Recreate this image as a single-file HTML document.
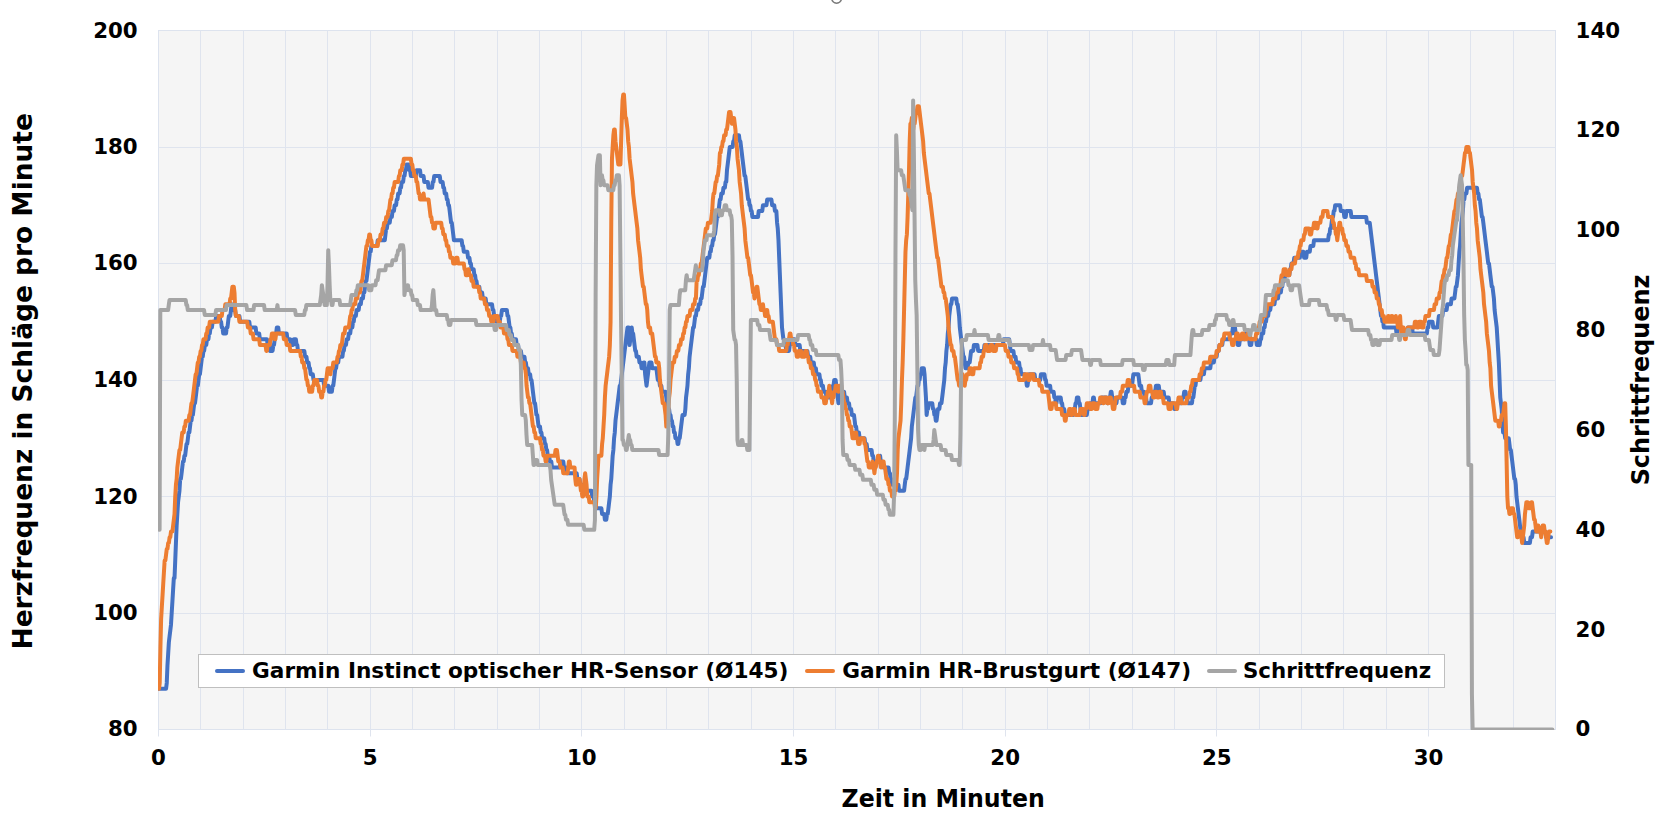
<!DOCTYPE html>
<html lang="de"><head><meta charset="utf-8"><title>Herzfrequenz Garmin Instinct</title>
<style>
html,body{margin:0;padding:0;background:#fff;}
body{width:1669px;height:827px;overflow:hidden;}
svg{display:block;}
text{font-family:"DejaVu Sans","Liberation Sans",sans-serif;font-weight:bold;fill:#000;}
.t{font-size:21.33px;}
.a{font-size:24px;}
.b{font-size:27.3px;}
.c{font-size:25px;}
</style></head><body>
<svg width="1669" height="827" viewBox="0 0 1669 827">
<rect width="1669" height="827" fill="#fff"/>
<circle cx="836.6" cy="-1.6" r="4.8" fill="none" stroke="#7a7a7a" stroke-width="1.6"/>
<rect x="158.5" y="30.5" width="1397.0" height="699.0" fill="#f5f5f5" stroke="#dde3ee" stroke-width="1"/>
<path d="M200.5 30.5V729.5 M243.5 30.5V729.5 M285.5 30.5V729.5 M327.5 30.5V729.5 M370.5 30.5V729.5 M412.5 30.5V729.5 M454.5 30.5V729.5 M497.5 30.5V729.5 M539.5 30.5V729.5 M581.5 30.5V729.5 M624.5 30.5V729.5 M666.5 30.5V729.5 M708.5 30.5V729.5 M751.5 30.5V729.5 M793.5 30.5V729.5 M835.5 30.5V729.5 M878.5 30.5V729.5 M920.5 30.5V729.5 M962.5 30.5V729.5 M1005.5 30.5V729.5 M1047.5 30.5V729.5 M1089.5 30.5V729.5 M1132.5 30.5V729.5 M1174.5 30.5V729.5 M1216.5 30.5V729.5 M1259.5 30.5V729.5 M1301.5 30.5V729.5 M1343.5 30.5V729.5 M1386.5 30.5V729.5 M1428.5 30.5V729.5 M1470.5 30.5V729.5 M1513.5 30.5V729.5 M158.5 147.5H1555.5 M158.5 263.5H1555.5 M158.5 380.5H1555.5 M158.5 496.5H1555.5 M158.5 613.5H1555.5" stroke="#dfe4ee" stroke-width="1" fill="none"/>
<path d="M158.5 729.5V736.5 M370.5 729.5V736.5 M581.5 729.5V736.5 M793.5 729.5V736.5 M1005.5 729.5V736.5 M1216.5 729.5V736.5 M1428.5 729.5V736.5" stroke="#dfe4ee" stroke-width="1" fill="none"/>
<rect x="198.5" y="654.5" width="1246" height="33" fill="#fff" stroke="#bfbfbf" stroke-width="1"/>
<clipPath id="pc"><rect x="158" y="20" width="1398" height="710"/></clipPath>
<g fill="none" stroke-width="4" stroke-linejoin="round" stroke-linecap="round" clip-path="url(#pc)">
<path d="M159 688.73 L166.06 688.73 L166.76 682.9 L167.47 665.42 L168.17 653.77 L168.88 642.12 L169.58 636.3 L170.29 630.48 L170.99 624.65 L171.7 613 L172.41 601.35 L173.11 589.7 L173.82 578.05 L174.52 578.05 L175.23 560.58 L175.93 543.1 L176.64 525.62 L177.34 513.98 L178.05 502.32 L178.76 496.5 L179.46 490.67 L180.17 479.02 L180.87 479.02 L181.58 473.2 L182.28 467.38 L182.99 461.55 L183.69 461.55 L184.4 455.72 L185.11 455.72 L185.81 449.9 L186.52 444.07 L187.22 444.07 L187.93 438.25 L188.63 432.43 L189.34 432.43 L190.04 426.6 L190.75 420.77 L191.46 420.77 L192.16 414.95 L192.87 414.95 L193.57 409.12 L194.28 403.3 L194.98 403.3 L195.69 397.47 L196.39 391.65 L197.1 385.82 L197.81 385.82 L198.51 380 L199.22 374.18 L199.92 374.18 L200.63 368.35 L201.33 362.52 L202.04 356.7 L202.74 356.7 L203.45 350.88 L204.16 350.88 L204.86 345.05 L206.27 345.05 L206.98 339.22 L208.39 339.22 L209.09 333.4 L209.8 333.4 L210.51 327.57 L211.92 327.57 L212.62 321.75 L215.44 321.75 L216.15 315.93 L219.68 315.93 L220.38 321.75 L221.09 321.75 L221.79 327.57 L222.5 327.57 L223.21 333.4 L226.03 333.4 L226.73 327.57 L227.44 327.57 L228.14 321.75 L228.85 315.93 L230.26 315.93 L230.97 310.1 L231.67 304.27 L232.38 310.1 L235.2 310.1 L235.91 315.93 L239.43 315.93 L240.14 321.75 L249.31 321.75 L250.02 327.57 L255.66 327.57 L256.37 333.4 L259.19 333.4 L259.89 339.22 L266.95 339.22 L267.66 345.05 L269.07 345.05 L269.77 350.88 L272.59 350.88 L273.3 345.05 L274.01 345.05 L274.71 339.22 L275.42 333.4 L276.12 333.4 L276.83 327.57 L278.24 327.57 L278.94 333.4 L286.71 333.4 L287.41 339.22 L290.23 339.22 L290.94 345.05 L293.06 345.05 L293.76 339.22 L295.88 339.22 L296.58 345.05 L297.29 345.05 L297.99 350.88 L304.34 350.88 L305.05 356.7 L306.46 356.7 L307.17 362.52 L308.58 362.52 L309.28 368.35 L309.99 368.35 L310.69 374.18 L312.81 374.18 L313.52 380 L323.39 380 L324.1 385.82 L328.33 385.82 L329.04 391.65 L331.86 391.65 L332.57 385.82 L333.27 385.82 L333.98 380 L334.68 374.18 L335.39 368.35 L336.09 368.35 L336.8 362.52 L338.21 362.52 L338.92 356.7 L342.44 356.7 L343.15 350.88 L343.86 350.88 L344.56 345.05 L345.97 345.05 L346.68 339.22 L348.09 339.22 L348.79 333.4 L350.21 333.4 L350.91 327.57 L352.32 327.57 L353.03 321.75 L353.73 321.75 L354.44 315.93 L355.85 315.93 L356.56 310.1 L358.67 310.1 L359.38 304.27 L360.79 304.27 L361.49 298.45 L362.91 298.45 L363.61 292.62 L364.32 292.62 L365.02 286.8 L365.73 280.97 L366.43 280.97 L367.14 275.15 L367.84 269.32 L368.55 263.5 L369.26 257.68 L369.96 251.85 L370.67 251.85 L371.37 246.02 L377.02 246.02 L377.72 240.2 L384.78 240.2 L385.48 234.38 L386.19 228.55 L386.89 228.55 L387.6 222.72 L389.72 222.72 L390.42 216.9 L391.83 216.9 L392.54 211.07 L393.95 211.07 L394.66 205.25 L396.07 205.25 L396.77 199.42 L397.48 199.42 L398.18 193.6 L399.59 193.6 L400.3 187.77 L401.01 187.77 L401.71 181.95 L403.12 181.95 L403.83 176.12 L404.53 176.12 L405.24 170.3 L405.94 170.3 L406.65 164.48 L408.77 164.48 L409.47 170.3 L410.18 170.3 L410.88 176.12 L415.82 176.12 L416.53 170.3 L420.06 170.3 L420.76 176.12 L423.58 176.12 L424.29 181.95 L427.82 181.95 L428.52 187.77 L432.05 187.77 L432.76 181.95 L433.46 181.95 L434.17 176.12 L439.81 176.12 L440.52 181.95 L442.63 181.95 L443.34 187.77 L444.04 187.77 L444.75 193.6 L446.16 193.6 L446.87 199.42 L447.57 199.42 L448.28 205.25 L448.98 205.25 L449.69 211.07 L450.39 216.9 L451.1 222.72 L451.81 222.72 L452.51 228.55 L453.22 234.38 L453.92 240.2 L461.68 240.2 L462.39 246.02 L463.09 246.02 L463.8 251.85 L467.33 251.85 L468.03 257.68 L469.44 257.68 L470.15 263.5 L470.86 263.5 L471.56 269.32 L473.68 269.32 L474.38 275.15 L475.09 275.15 L475.79 280.97 L476.5 280.97 L477.21 286.8 L479.32 286.8 L480.03 292.62 L482.14 292.62 L482.85 298.45 L485.67 298.45 L486.38 304.27 L492.02 304.27 L492.73 310.1 L493.43 310.1 L494.14 315.93 L495.55 315.93 L496.26 321.75 L499.78 321.75 L500.49 315.93 L501.19 315.93 L501.9 310.1 L506.84 310.1 L507.54 315.93 L508.25 315.93 L508.96 321.75 L509.66 327.57 L510.37 327.57 L511.07 333.4 L511.78 333.4 L512.48 339.22 L516.01 339.22 L516.72 345.05 L518.13 345.05 L518.83 350.88 L520.95 350.88 L521.66 356.7 L524.48 356.7 L525.18 362.52 L525.89 362.52 L526.59 368.35 L528.01 368.35 L528.71 374.18 L530.12 374.18 L530.83 380 L531.53 380 L532.24 385.82 L532.94 391.65 L533.65 397.47 L534.36 403.3 L535.06 403.3 L535.77 409.12 L536.47 414.95 L537.18 414.95 L537.88 420.77 L538.59 426.6 L540 426.6 L540.71 432.43 L541.41 432.43 L542.12 438.25 L544.23 438.25 L544.94 444.07 L545.64 444.07 L546.35 449.9 L547.06 449.9 L547.76 455.72 L549.17 455.72 L549.88 461.55 L551.29 461.55 L551.99 467.38 L559.76 467.38 L560.46 461.55 L563.28 461.55 L563.99 467.38 L566.11 467.38 L566.81 473.2 L576.69 473.2 L577.39 479.02 L579.51 479.02 L580.22 484.85 L584.45 484.85 L585.16 490.67 L591.51 490.67 L592.21 496.5 L593.62 496.5 L594.33 502.32 L595.03 502.32 L595.74 508.15 L601.38 508.15 L602.09 513.98 L604.21 513.98 L604.91 519.8 L606.32 519.8 L607.03 513.98 L607.73 513.98 L608.44 508.15 L609.14 502.32 L609.85 496.5 L610.56 484.85 L611.26 479.02 L611.97 467.38 L612.67 455.72 L613.38 449.9 L614.08 438.25 L614.79 432.43 L615.49 420.77 L616.2 414.95 L616.91 409.12 L617.61 403.3 L618.32 397.47 L619.02 391.65 L619.73 385.82 L620.43 385.82 L621.14 380 L621.84 374.18 L622.55 368.35 L623.26 362.52 L623.96 356.7 L624.67 350.88 L625.37 345.05 L626.08 339.22 L626.78 333.4 L627.49 327.57 L628.9 327.57 L629.61 345.05 L630.31 339.22 L631.02 333.4 L631.72 327.57 L632.43 333.4 L633.13 333.4 L633.84 339.22 L634.54 345.05 L635.25 350.88 L635.96 350.88 L636.66 356.7 L638.78 356.7 L639.48 362.52 L640.89 362.52 L641.6 368.35 L643.01 368.35 L643.72 362.52 L644.42 362.52 L645.13 374.18 L645.83 380 L646.54 385.82 L647.24 380 L647.95 374.18 L648.66 368.35 L649.36 362.52 L651.48 362.52 L652.18 368.35 L656.42 368.35 L657.12 374.18 L657.83 380 L659.24 380 L659.94 385.82 L661.36 385.82 L662.06 391.65 L665.59 391.65 L666.29 397.47 L667 403.3 L667.71 403.3 L668.41 409.12 L669.12 409.12 L669.82 414.95 L670.53 414.95 L671.23 420.77 L671.94 420.77 L672.64 426.6 L673.35 426.6 L674.06 432.43 L674.76 432.43 L675.47 438.25 L676.88 438.25 L677.58 444.07 L678.29 444.07 L678.99 438.25 L679.7 438.25 L680.41 432.43 L681.11 426.6 L681.82 420.77 L682.52 414.95 L684.64 414.95 L685.34 409.12 L686.05 397.47 L686.76 391.65 L687.46 385.82 L688.17 374.18 L688.87 368.35 L689.58 356.7 L690.28 350.88 L690.99 345.05 L691.69 339.22 L692.4 333.4 L693.11 327.57 L693.81 327.57 L694.52 321.75 L695.22 315.93 L695.93 315.93 L696.63 310.1 L698.04 310.1 L698.75 304.27 L700.16 304.27 L700.87 298.45 L701.57 298.45 L702.28 292.62 L702.98 286.8 L703.69 286.8 L704.39 280.97 L705.1 275.15 L705.81 269.32 L706.51 263.5 L707.22 257.68 L709.33 257.68 L710.04 251.85 L710.74 251.85 L711.45 246.02 L712.16 246.02 L712.86 240.2 L713.57 240.2 L714.27 234.38 L714.98 234.38 L715.68 228.55 L716.39 222.72 L717.09 216.9 L717.8 216.9 L718.51 211.07 L719.21 205.25 L719.92 199.42 L720.62 199.42 L721.33 193.6 L722.74 193.6 L723.44 187.77 L724.86 187.77 L725.56 181.95 L726.27 181.95 L726.97 170.3 L727.68 164.48 L728.38 158.65 L729.09 152.82 L729.79 147 L732.62 147 L733.32 141.17 L734.03 141.17 L734.73 135.35 L738.97 135.35 L739.67 141.17 L740.38 141.17 L741.08 147 L741.79 152.82 L742.49 158.65 L743.2 164.48 L743.91 170.3 L744.61 176.12 L745.32 176.12 L746.02 181.95 L746.73 187.77 L747.43 193.6 L748.14 199.42 L748.84 199.42 L749.55 205.25 L750.26 205.25 L750.96 211.07 L751.67 211.07 L752.37 216.9 L758.02 216.9 L758.72 211.07 L762.25 211.07 L762.96 205.25 L766.48 205.25 L767.19 199.42 L771.42 199.42 L772.13 205.25 L774.24 205.25 L774.95 211.07 L776.36 211.07 L777.07 222.72 L777.77 228.55 L778.48 240.2 L779.18 257.68 L779.89 275.15 L780.59 292.62 L781.3 310.1 L782.01 327.57 L782.71 333.4 L783.42 339.22 L784.12 339.22 L784.83 345.05 L785.53 345.05 L786.24 350.88 L789.06 350.88 L789.77 345.05 L790.47 345.05 L791.18 339.22 L794.71 339.22 L795.41 345.05 L799.64 345.05 L800.35 350.88 L807.41 350.88 L808.11 356.7 L810.23 356.7 L810.93 362.52 L813.76 362.52 L814.46 368.35 L815.87 368.35 L816.58 374.18 L819.4 374.18 L820.11 380 L820.81 380 L821.52 385.82 L822.93 385.82 L823.63 391.65 L825.75 391.65 L826.46 397.47 L831.39 397.47 L832.1 391.65 L832.81 385.82 L833.51 385.82 L834.22 380 L835.63 380 L836.33 385.82 L837.04 391.65 L837.74 397.47 L838.45 403.3 L839.16 397.47 L839.86 397.47 L840.57 391.65 L844.09 391.65 L844.8 397.47 L846.92 397.47 L847.62 403.3 L849.03 403.3 L849.74 409.12 L851.15 409.12 L851.86 414.95 L853.97 414.95 L854.68 420.77 L855.38 426.6 L856.09 426.6 L856.79 432.43 L858.91 432.43 L859.62 438.25 L864.56 438.25 L865.26 444.07 L866.67 444.07 L867.38 449.9 L871.61 449.9 L872.32 455.72 L873.02 455.72 L873.73 461.55 L879.37 461.55 L880.08 455.72 L880.78 461.55 L882.19 461.55 L882.9 467.38 L888.54 467.38 L889.25 473.2 L889.96 473.2 L890.66 479.02 L891.37 479.02 L892.07 484.85 L898.42 484.85 L899.13 490.67 L904.07 490.67 L904.77 484.85 L905.48 479.02 L906.18 479.02 L906.89 473.2 L907.59 467.38 L908.3 461.55 L909.01 455.72 L909.71 449.9 L910.42 444.07 L911.12 438.25 L911.83 426.6 L912.53 420.77 L913.24 414.95 L913.94 409.12 L914.65 403.3 L915.36 397.47 L916.06 397.47 L916.77 391.65 L917.47 385.82 L918.18 385.82 L918.88 380 L919.59 380 L920.29 374.18 L921 374.18 L921.71 368.35 L923.82 368.35 L924.53 374.18 L925.23 385.82 L925.94 397.47 L926.64 414.95 L927.35 409.12 L928.06 409.12 L928.76 403.3 L932.29 403.3 L932.99 409.12 L933.7 409.12 L934.41 414.95 L935.11 414.95 L935.82 420.77 L936.52 420.77 L937.23 414.95 L937.93 409.12 L939.34 409.12 L940.05 403.3 L941.46 403.3 L942.17 397.47 L942.87 391.65 L943.58 385.82 L944.28 380 L944.99 368.35 L945.69 362.52 L946.4 350.88 L947.11 345.05 L947.81 333.4 L948.52 327.57 L949.22 315.93 L949.93 310.1 L950.63 304.27 L951.34 304.27 L952.04 298.45 L956.28 298.45 L956.98 304.27 L957.69 304.27 L958.39 310.1 L959.1 315.93 L959.81 327.57 L960.51 333.4 L961.22 339.22 L961.92 345.05 L962.63 350.88 L963.33 356.7 L964.04 356.7 L964.74 362.52 L965.45 368.35 L967.57 368.35 L968.27 362.52 L969.68 362.52 L970.39 356.7 L971.09 350.88 L973.21 350.88 L973.92 345.05 L977.44 345.05 L978.15 350.88 L983.79 350.88 L984.5 345.05 L1002.84 345.05 L1003.55 339.22 L1009.19 339.22 L1009.9 345.05 L1010.61 350.88 L1013.43 350.88 L1014.13 356.7 L1015.54 356.7 L1016.25 362.52 L1019.07 362.52 L1019.78 368.35 L1020.48 368.35 L1021.19 374.18 L1024.72 374.18 L1025.42 380 L1026.13 380 L1026.83 385.82 L1027.54 385.82 L1028.24 380 L1028.95 374.18 L1034.59 374.18 L1035.3 380 L1040.24 380 L1040.94 374.18 L1044.47 374.18 L1045.18 380 L1045.88 380 L1046.59 385.82 L1050.12 385.82 L1050.82 391.65 L1053.64 391.65 L1054.35 397.47 L1055.06 397.47 L1055.76 403.3 L1056.47 403.3 L1057.17 397.47 L1060.7 397.47 L1061.41 403.3 L1062.11 403.3 L1062.82 409.12 L1064.23 409.12 L1064.93 414.95 L1073.4 414.95 L1074.11 409.12 L1074.81 409.12 L1075.52 403.3 L1076.22 403.3 L1076.93 397.47 L1078.34 397.47 L1079.04 403.3 L1079.75 403.3 L1080.46 409.12 L1081.16 414.95 L1086.81 414.95 L1087.51 409.12 L1089.63 409.12 L1090.33 403.3 L1092.45 403.3 L1093.16 397.47 L1093.86 397.47 L1094.57 403.3 L1100.92 403.3 L1101.62 397.47 L1106.56 397.47 L1107.27 403.3 L1107.97 403.3 L1108.68 397.47 L1110.09 397.47 L1110.79 391.65 L1111.5 391.65 L1112.21 397.47 L1112.91 397.47 L1113.62 403.3 L1116.44 403.3 L1117.14 397.47 L1122.08 397.47 L1122.79 403.3 L1124.2 403.3 L1124.91 397.47 L1125.61 397.47 L1126.32 391.65 L1127.73 391.65 L1128.43 385.82 L1131.96 385.82 L1132.67 380 L1133.37 374.18 L1138.31 374.18 L1139.02 380 L1139.72 385.82 L1141.13 385.82 L1141.84 391.65 L1143.96 391.65 L1144.66 397.47 L1146.07 397.47 L1146.78 403.3 L1151.01 403.3 L1151.72 397.47 L1152.42 397.47 L1153.13 391.65 L1155.24 391.65 L1155.95 385.82 L1158.77 385.82 L1159.48 391.65 L1163.71 391.65 L1164.42 397.47 L1168.65 397.47 L1169.36 403.3 L1173.59 403.3 L1174.29 409.12 L1176.41 409.12 L1177.12 403.3 L1181.35 403.3 L1182.06 397.47 L1183.47 397.47 L1184.17 391.65 L1185.58 391.65 L1186.29 397.47 L1186.99 397.47 L1187.7 403.3 L1191.93 403.3 L1192.64 397.47 L1193.34 397.47 L1194.05 391.65 L1194.76 385.82 L1195.46 385.82 L1196.17 380 L1200.4 380 L1201.11 374.18 L1203.93 374.18 L1204.63 368.35 L1210.28 368.35 L1210.98 362.52 L1213.81 362.52 L1214.51 356.7 L1216.63 356.7 L1217.33 350.88 L1218.74 350.88 L1219.45 345.05 L1222.27 345.05 L1222.98 339.22 L1229.33 339.22 L1230.03 333.4 L1232.15 333.4 L1232.86 327.57 L1234.97 327.57 L1235.68 333.4 L1236.38 339.22 L1237.09 339.22 L1237.79 345.05 L1239.21 345.05 L1239.91 339.22 L1244.85 339.22 L1245.56 333.4 L1246.97 333.4 L1247.67 339.22 L1249.08 339.22 L1249.79 345.05 L1251.2 345.05 L1251.91 339.22 L1256.14 339.22 L1256.84 345.05 L1259.67 345.05 L1260.37 339.22 L1261.08 339.22 L1261.78 333.4 L1263.19 333.4 L1263.9 327.57 L1264.61 327.57 L1265.31 321.75 L1266.02 321.75 L1266.72 315.93 L1268.13 315.93 L1268.84 310.1 L1270.25 310.1 L1270.96 304.27 L1274.48 304.27 L1275.19 298.45 L1278.01 298.45 L1278.72 292.62 L1280.83 292.62 L1281.54 286.8 L1282.24 286.8 L1282.95 280.97 L1284.36 280.97 L1285.07 275.15 L1289.3 275.15 L1290.01 269.32 L1290.71 269.32 L1291.42 263.5 L1293.53 263.5 L1294.24 257.68 L1299.88 257.68 L1300.59 251.85 L1303.41 251.85 L1304.12 257.68 L1306.23 257.68 L1306.94 251.85 L1309.76 251.85 L1310.47 246.02 L1313.29 246.02 L1313.99 240.2 L1328.11 240.2 L1328.81 234.38 L1329.52 234.38 L1330.22 228.55 L1330.93 228.55 L1331.63 222.72 L1332.34 216.9 L1333.04 216.9 L1333.75 211.07 L1334.46 211.07 L1335.16 205.25 L1340.1 205.25 L1340.81 211.07 L1343.63 211.07 L1344.33 216.9 L1345.74 216.9 L1346.45 211.07 L1350.68 211.07 L1351.39 216.9 L1366.21 216.9 L1366.91 222.72 L1369.73 222.72 L1370.44 228.55 L1371.14 234.38 L1371.85 240.2 L1372.56 246.02 L1373.26 251.85 L1373.97 257.68 L1374.67 263.5 L1375.38 269.32 L1376.08 275.15 L1376.79 280.97 L1377.49 286.8 L1378.2 292.62 L1378.91 298.45 L1379.61 304.27 L1380.32 310.1 L1381.02 315.93 L1381.73 315.93 L1382.43 321.75 L1383.14 321.75 L1383.84 327.57 L1395.84 327.57 L1396.54 333.4 L1397.25 333.4 L1397.96 327.57 L1402.19 327.57 L1402.89 333.4 L1407.13 333.4 L1407.83 327.57 L1412.07 327.57 L1412.77 333.4 L1426.88 333.4 L1427.59 327.57 L1428.29 327.57 L1429 321.75 L1432.53 321.75 L1433.23 327.57 L1437.47 327.57 L1438.17 321.75 L1438.88 315.93 L1442.41 315.93 L1443.11 310.1 L1446.64 310.1 L1447.34 304.27 L1450.87 304.27 L1451.58 298.45 L1454.4 298.45 L1455.11 292.62 L1455.81 286.8 L1456.52 286.8 L1457.22 280.97 L1457.93 275.15 L1458.63 263.5 L1459.34 251.85 L1460.04 246.02 L1460.75 234.38 L1461.46 222.72 L1462.16 216.9 L1462.87 211.07 L1463.57 199.42 L1464.28 199.42 L1464.98 193.6 L1466.39 193.6 L1467.1 187.77 L1476.98 187.77 L1477.68 193.6 L1478.39 193.6 L1479.09 199.42 L1479.8 199.42 L1480.51 205.25 L1481.21 211.07 L1481.92 216.9 L1482.62 216.9 L1483.33 222.72 L1484.03 228.55 L1484.74 234.38 L1485.44 240.2 L1486.15 246.02 L1486.86 251.85 L1487.56 257.68 L1488.27 263.5 L1488.97 263.5 L1489.68 269.32 L1490.38 275.15 L1491.09 280.97 L1491.79 286.8 L1492.5 286.8 L1493.21 292.62 L1493.91 298.45 L1494.62 310.1 L1495.32 315.93 L1496.03 321.75 L1496.73 327.57 L1497.44 339.22 L1498.14 350.88 L1498.85 362.52 L1499.56 380 L1500.26 397.47 L1500.97 403.3 L1501.67 409.12 L1502.38 420.77 L1503.08 432.43 L1504.49 432.43 L1505.2 438.25 L1508.73 438.25 L1509.43 444.07 L1510.14 449.9 L1510.84 449.9 L1511.55 455.72 L1512.26 461.55 L1512.96 467.38 L1513.67 473.2 L1514.37 479.02 L1515.08 479.02 L1515.78 484.85 L1516.49 496.5 L1517.19 502.32 L1517.9 508.15 L1518.61 513.98 L1519.31 519.8 L1520.02 525.62 L1520.72 531.45 L1521.43 531.45 L1522.13 537.27 L1523.54 537.27 L1524.25 543.1 L1529.89 543.1 L1530.6 537.27 L1532.01 537.27 L1532.72 531.45 L1545.42 531.45 L1546.12 537.27 L1551.06 537.27" stroke="#4472c4"/>
<path d="M159 688.73 L159.71 682.9 L160.41 647.95 L161.12 618.83 L161.82 607.17 L162.53 595.52 L163.23 583.88 L163.94 572.23 L164.64 560.58 L165.35 560.58 L166.06 554.75 L166.76 548.92 L167.47 548.92 L168.17 543.1 L168.88 543.1 L169.58 537.27 L170.29 537.27 L170.99 531.45 L172.41 531.45 L173.11 525.62 L173.82 519.8 L174.52 513.98 L175.23 496.5 L175.93 484.85 L176.64 479.02 L177.34 467.38 L178.05 461.55 L178.76 455.72 L179.46 449.9 L180.17 449.9 L180.87 444.07 L181.58 438.25 L182.28 432.43 L183.69 432.43 L184.4 426.6 L185.11 426.6 L185.81 420.77 L188.63 420.77 L189.34 414.95 L190.04 414.95 L190.75 409.12 L191.46 403.3 L192.16 403.3 L192.87 397.47 L193.57 391.65 L194.28 385.82 L194.98 380 L195.69 374.18 L196.39 374.18 L197.1 368.35 L197.81 362.52 L198.51 362.52 L199.22 356.7 L199.92 356.7 L200.63 350.88 L201.33 350.88 L202.04 345.05 L202.74 345.05 L203.45 339.22 L205.57 339.22 L206.27 333.4 L206.98 333.4 L207.68 327.57 L209.09 327.57 L209.8 321.75 L218.27 321.75 L218.97 315.93 L221.79 315.93 L222.5 310.1 L224.62 310.1 L225.32 304.27 L229.56 304.27 L230.26 298.45 L230.97 298.45 L231.67 292.62 L232.38 286.8 L233.79 286.8 L234.49 292.62 L235.2 310.1 L235.91 315.93 L238.73 315.93 L239.43 321.75 L247.19 321.75 L247.9 327.57 L250.02 327.57 L250.72 333.4 L252.84 333.4 L253.54 339.22 L259.19 339.22 L259.89 345.05 L265.54 345.05 L266.24 350.88 L266.95 350.88 L267.66 345.05 L269.77 345.05 L270.48 339.22 L271.18 339.22 L271.89 333.4 L274.01 333.4 L274.71 339.22 L275.42 339.22 L276.12 333.4 L283.18 333.4 L283.88 339.22 L286 339.22 L286.71 345.05 L289.53 345.05 L290.23 350.88 L300.11 350.88 L300.82 356.7 L301.52 356.7 L302.23 362.52 L303.64 362.52 L304.34 368.35 L305.05 368.35 L305.76 374.18 L306.46 380 L307.17 380 L307.87 385.82 L308.58 385.82 L309.28 391.65 L312.11 391.65 L312.81 385.82 L313.52 385.82 L314.22 380 L317.04 380 L317.75 385.82 L318.46 385.82 L319.16 391.65 L320.57 391.65 L321.28 397.47 L321.98 397.47 L322.69 391.65 L323.39 391.65 L324.1 385.82 L324.81 385.82 L325.51 380 L326.22 380 L326.92 374.18 L327.63 368.35 L329.74 368.35 L330.45 374.18 L331.16 368.35 L332.57 368.35 L333.27 362.52 L336.8 362.52 L337.51 356.7 L338.21 356.7 L338.92 350.88 L339.62 350.88 L340.33 345.05 L341.74 345.05 L342.44 339.22 L343.15 333.4 L344.56 333.4 L345.27 327.57 L348.79 327.57 L349.5 321.75 L350.21 315.93 L350.91 315.93 L351.62 310.1 L352.32 310.1 L353.03 304.27 L355.14 304.27 L355.85 298.45 L357.26 298.45 L357.97 292.62 L360.08 292.62 L360.79 286.8 L361.49 280.97 L362.2 280.97 L362.91 275.15 L363.61 269.32 L364.32 263.5 L365.02 257.68 L365.73 251.85 L366.43 246.02 L367.14 246.02 L367.84 240.2 L368.55 240.2 L369.26 234.38 L369.96 234.38 L370.67 240.2 L371.37 240.2 L372.08 246.02 L377.72 246.02 L378.43 240.2 L379.84 240.2 L380.54 234.38 L381.96 234.38 L382.66 228.55 L383.37 228.55 L384.07 222.72 L385.48 222.72 L386.19 216.9 L387.6 216.9 L388.31 211.07 L389.01 211.07 L389.72 205.25 L390.42 199.42 L391.13 199.42 L391.83 193.6 L392.54 193.6 L393.24 187.77 L393.95 187.77 L394.66 181.95 L398.18 181.95 L398.89 176.12 L399.59 176.12 L400.3 170.3 L401.71 170.3 L402.42 164.48 L403.12 164.48 L403.83 158.65 L410.88 158.65 L411.59 164.48 L412.29 164.48 L413 170.3 L413.71 170.3 L414.41 176.12 L415.82 176.12 L416.53 181.95 L417.23 181.95 L417.94 187.77 L418.64 193.6 L419.35 193.6 L420.06 199.42 L422.88 199.42 L423.58 193.6 L424.29 199.42 L428.52 199.42 L429.23 205.25 L429.93 211.07 L430.64 216.9 L431.34 216.9 L432.05 222.72 L432.76 222.72 L433.46 228.55 L434.87 228.55 L435.58 222.72 L441.22 222.72 L441.93 228.55 L442.63 228.55 L443.34 234.38 L444.75 234.38 L445.46 240.2 L446.16 240.2 L446.87 246.02 L448.28 246.02 L448.98 251.85 L449.69 251.85 L450.39 257.68 L452.51 257.68 L453.22 263.5 L455.33 263.5 L456.04 257.68 L457.45 257.68 L458.16 263.5 L463.8 263.5 L464.51 269.32 L465.21 269.32 L465.92 275.15 L467.33 275.15 L468.03 269.32 L468.74 269.32 L469.44 275.15 L470.86 275.15 L471.56 280.97 L472.97 280.97 L473.68 286.8 L478.62 286.8 L479.32 292.62 L480.03 292.62 L480.73 298.45 L484.26 298.45 L484.97 304.27 L486.38 304.27 L487.08 310.1 L488.49 310.1 L489.2 315.93 L490.61 315.93 L491.32 321.75 L493.43 321.75 L494.14 315.93 L497.67 315.93 L498.37 321.75 L499.78 321.75 L500.49 327.57 L503.31 327.57 L504.02 333.4 L506.84 333.4 L507.54 339.22 L508.25 339.22 L508.96 345.05 L511.78 345.05 L512.48 350.88 L516.72 350.88 L517.42 356.7 L520.24 356.7 L520.95 362.52 L523.77 362.52 L524.48 368.35 L525.18 368.35 L525.89 374.18 L526.59 385.82 L527.3 391.65 L528.01 397.47 L528.71 397.47 L529.42 403.3 L530.12 403.3 L530.83 409.12 L531.53 414.95 L532.24 420.77 L532.94 426.6 L533.65 426.6 L534.36 432.43 L535.06 432.43 L535.77 438.25 L540 438.25 L540.71 444.07 L541.41 444.07 L542.12 449.9 L542.82 449.9 L543.53 455.72 L544.94 455.72 L545.64 461.55 L546.35 461.55 L547.06 455.72 L554.82 455.72 L555.52 449.9 L556.93 449.9 L557.64 455.72 L558.34 461.55 L559.76 461.55 L560.46 467.38 L562.58 467.38 L563.28 473.2 L567.52 473.2 L568.22 467.38 L568.93 461.55 L569.63 461.55 L570.34 467.38 L574.57 467.38 L575.28 479.02 L575.98 484.85 L576.69 484.85 L577.39 479.02 L579.51 479.02 L580.22 484.85 L580.92 490.67 L581.63 490.67 L582.33 496.5 L583.04 496.5 L583.74 490.67 L584.45 479.02 L585.16 473.2 L585.86 479.02 L586.57 484.85 L587.27 496.5 L588.68 496.5 L589.39 502.32 L594.33 502.32 L595.03 508.15 L595.74 508.15 L596.44 496.5 L597.15 479.02 L597.86 467.38 L598.56 455.72 L601.38 455.72 L602.09 444.07 L602.79 438.25 L603.5 426.6 L604.21 414.95 L604.91 397.47 L605.62 385.82 L606.32 380 L607.03 374.18 L607.73 368.35 L608.44 362.52 L609.14 356.7 L609.85 345.05 L610.56 321.75 L611.26 222.72 L611.97 158.65 L612.67 147 L613.38 135.35 L614.08 129.52 L614.79 129.52 L615.49 141.17 L616.2 147 L616.91 152.82 L617.61 158.65 L618.32 164.48 L620.43 164.48 L621.14 141.17 L621.84 117.88 L622.55 100.4 L623.26 94.57 L623.96 94.57 L624.67 106.23 L625.37 117.88 L626.08 117.88 L626.78 123.7 L627.49 129.52 L628.19 141.17 L628.9 147 L629.61 158.65 L630.31 164.48 L631.02 170.3 L631.72 176.12 L632.43 181.95 L633.13 193.6 L633.84 199.42 L634.54 205.25 L635.25 211.07 L635.96 216.9 L636.66 222.72 L637.37 228.55 L638.07 240.2 L638.78 246.02 L639.48 251.85 L640.19 257.68 L640.89 269.32 L641.6 275.15 L642.31 280.97 L643.01 286.8 L643.72 286.8 L644.42 292.62 L645.13 298.45 L645.83 304.27 L646.54 304.27 L647.24 310.1 L647.95 321.75 L648.66 327.57 L650.07 327.57 L650.77 333.4 L652.18 333.4 L652.89 339.22 L653.59 345.05 L654.3 350.88 L655.01 356.7 L655.71 356.7 L656.42 362.52 L658.53 362.52 L659.24 368.35 L659.94 380 L660.65 385.82 L661.36 391.65 L662.06 397.47 L662.77 403.3 L664.18 403.3 L664.88 409.12 L665.59 414.95 L666.29 426.6 L667 420.77 L667.71 414.95 L668.41 409.12 L669.12 397.47 L669.82 391.65 L670.53 380 L671.23 374.18 L671.94 368.35 L672.64 362.52 L674.06 362.52 L674.76 356.7 L676.17 356.7 L676.88 350.88 L678.29 350.88 L678.99 345.05 L680.41 345.05 L681.11 339.22 L682.52 339.22 L683.23 333.4 L683.93 333.4 L684.64 327.57 L685.34 327.57 L686.05 321.75 L686.76 321.75 L687.46 315.93 L689.58 315.93 L690.28 310.1 L692.4 310.1 L693.11 304.27 L694.52 304.27 L695.22 298.45 L695.93 298.45 L696.63 280.97 L697.34 280.97 L698.04 275.15 L698.75 275.15 L699.46 269.32 L700.16 269.32 L700.87 263.5 L701.57 263.5 L702.28 257.68 L702.98 251.85 L703.69 246.02 L704.39 240.2 L705.1 234.38 L705.81 228.55 L707.22 228.55 L707.92 222.72 L710.74 222.72 L711.45 216.9 L712.16 211.07 L712.86 199.42 L713.57 193.6 L714.27 193.6 L714.98 187.77 L715.68 181.95 L716.39 181.95 L717.09 176.12 L717.8 176.12 L718.51 170.3 L719.21 164.48 L719.92 152.82 L720.62 152.82 L721.33 147 L722.03 147 L722.74 141.17 L723.44 141.17 L724.15 135.35 L725.56 135.35 L726.27 129.52 L726.97 129.52 L727.68 123.7 L728.38 117.88 L729.09 112.05 L730.5 112.05 L731.21 117.88 L731.91 123.7 L732.62 117.88 L734.03 117.88 L734.73 123.7 L735.44 129.52 L736.14 141.17 L736.85 147 L737.56 158.65 L738.26 164.48 L738.97 170.3 L739.67 181.95 L740.38 187.77 L741.08 193.6 L741.79 205.25 L742.49 211.07 L743.2 216.9 L743.91 222.72 L744.61 228.55 L745.32 240.2 L746.02 246.02 L746.73 251.85 L747.43 257.68 L748.14 257.68 L748.84 263.5 L749.55 269.32 L750.26 275.15 L750.96 275.15 L751.67 280.97 L752.37 286.8 L753.08 292.62 L753.78 292.62 L754.49 298.45 L755.19 292.62 L755.9 292.62 L756.61 286.8 L757.31 286.8 L758.02 292.62 L758.72 298.45 L759.43 304.27 L760.13 304.27 L760.84 310.1 L762.25 310.1 L762.96 304.27 L763.66 310.1 L764.37 310.1 L765.07 315.93 L765.78 315.93 L766.48 310.1 L767.19 310.1 L767.89 315.93 L768.6 315.93 L769.31 321.75 L772.83 321.75 L773.54 327.57 L774.24 333.4 L774.95 339.22 L776.36 339.22 L777.07 345.05 L778.48 345.05 L779.18 350.88 L786.24 350.88 L786.94 345.05 L787.65 345.05 L788.36 339.22 L789.06 339.22 L789.77 333.4 L790.47 333.4 L791.18 339.22 L792.59 339.22 L793.29 345.05 L794 345.05 L794.71 350.88 L796.12 350.88 L796.82 356.7 L798.23 356.7 L798.94 350.88 L801.06 350.88 L801.76 356.7 L804.58 356.7 L805.29 350.88 L806.7 350.88 L807.41 356.7 L808.11 356.7 L808.82 362.52 L810.23 362.52 L810.93 368.35 L812.34 368.35 L813.05 374.18 L814.46 374.18 L815.17 380 L815.87 380 L816.58 385.82 L817.28 385.82 L817.99 391.65 L820.81 391.65 L821.52 397.47 L823.63 397.47 L824.34 403.3 L825.75 403.3 L826.46 397.47 L827.16 397.47 L827.87 391.65 L828.57 391.65 L829.28 385.82 L829.98 391.65 L830.69 391.65 L831.39 397.47 L832.1 403.3 L832.81 397.47 L833.51 397.47 L834.22 391.65 L834.92 391.65 L835.63 385.82 L837.74 385.82 L838.45 391.65 L839.16 385.82 L841.27 385.82 L841.98 391.65 L842.68 391.65 L843.39 397.47 L844.09 403.3 L844.8 403.3 L845.51 409.12 L846.21 409.12 L846.92 414.95 L847.62 414.95 L848.33 420.77 L849.03 420.77 L849.74 426.6 L851.15 426.6 L851.86 432.43 L852.56 438.25 L854.68 438.25 L855.38 432.43 L856.09 432.43 L856.79 438.25 L857.5 438.25 L858.21 444.07 L859.62 444.07 L860.32 438.25 L863.85 438.25 L864.56 444.07 L865.26 444.07 L865.97 449.9 L866.67 455.72 L867.38 461.55 L868.08 461.55 L868.79 467.38 L871.61 467.38 L872.32 461.55 L873.02 467.38 L873.73 467.38 L874.43 473.2 L875.14 467.38 L875.84 467.38 L876.55 461.55 L877.26 461.55 L877.96 455.72 L878.67 455.72 L879.37 461.55 L880.08 461.55 L880.78 467.38 L881.49 467.38 L882.19 461.55 L883.61 461.55 L884.31 467.38 L885.02 467.38 L885.72 473.2 L886.43 479.02 L887.84 479.02 L888.54 484.85 L889.25 484.85 L889.96 490.67 L891.37 490.67 L892.07 496.5 L894.19 496.5 L894.89 490.67 L895.6 490.67 L896.31 484.85 L897.01 473.2 L897.72 449.9 L898.42 438.25 L899.13 432.43 L899.83 426.6 L900.54 420.77 L901.24 403.3 L901.95 380 L902.66 362.52 L903.36 339.22 L904.07 310.1 L904.77 280.97 L905.48 251.85 L906.18 240.2 L906.89 234.38 L907.59 216.9 L908.3 193.6 L909.01 170.3 L909.71 141.17 L910.42 123.7 L911.12 123.7 L911.83 117.88 L912.53 123.7 L913.24 129.52 L913.94 123.7 L914.65 123.7 L915.36 117.88 L916.06 112.05 L916.77 112.05 L917.47 106.23 L918.88 106.23 L919.59 112.05 L920.29 117.88 L921 123.7 L921.71 129.52 L922.41 135.35 L923.12 141.17 L923.82 152.82 L924.53 158.65 L925.23 164.48 L925.94 170.3 L926.64 176.12 L927.35 181.95 L928.06 187.77 L928.76 193.6 L929.47 193.6 L930.17 199.42 L930.88 205.25 L931.58 211.07 L932.29 216.9 L932.99 222.72 L933.7 228.55 L934.41 234.38 L935.11 240.2 L935.82 246.02 L936.52 251.85 L937.23 257.68 L937.93 257.68 L938.64 263.5 L939.34 269.32 L940.05 275.15 L940.76 280.97 L941.46 286.8 L942.87 286.8 L943.58 292.62 L944.28 292.62 L944.99 298.45 L945.69 298.45 L946.4 304.27 L947.11 310.1 L947.81 315.93 L948.52 327.57 L949.22 333.4 L949.93 339.22 L950.63 345.05 L951.34 345.05 L952.04 350.88 L953.46 350.88 L954.16 356.7 L954.87 356.7 L955.57 362.52 L956.28 368.35 L956.98 374.18 L957.69 380 L958.39 380 L959.1 385.82 L959.81 385.82 L960.51 380 L961.92 380 L962.63 374.18 L963.33 380 L964.04 380 L964.74 385.82 L965.45 380 L966.16 380 L966.86 374.18 L968.98 374.18 L969.68 368.35 L971.09 368.35 L971.8 374.18 L973.21 374.18 L973.92 368.35 L979.56 368.35 L980.27 362.52 L980.97 362.52 L981.68 356.7 L983.09 356.7 L983.79 350.88 L984.5 350.88 L985.21 345.05 L986.62 345.05 L987.32 350.88 L990.14 350.88 L990.85 345.05 L992.26 345.05 L992.97 350.88 L995.79 350.88 L996.49 345.05 L1004.96 345.05 L1005.67 350.88 L1007.78 350.88 L1008.49 356.7 L1010.61 356.7 L1011.31 362.52 L1013.43 362.52 L1014.13 368.35 L1016.96 368.35 L1017.66 374.18 L1018.37 374.18 L1019.07 380 L1024.01 380 L1024.72 374.18 L1027.54 374.18 L1028.24 380 L1029.66 380 L1030.36 374.18 L1033.18 374.18 L1033.89 380 L1038.83 380 L1039.53 385.82 L1041.65 385.82 L1042.36 391.65 L1048 391.65 L1048.71 397.47 L1049.41 403.3 L1050.12 409.12 L1051.53 409.12 L1052.23 403.3 L1055.76 403.3 L1056.47 409.12 L1061.41 409.12 L1062.11 414.95 L1064.23 414.95 L1064.93 420.77 L1065.64 420.77 L1066.34 414.95 L1068.46 414.95 L1069.17 409.12 L1070.58 409.12 L1071.28 414.95 L1071.99 414.95 L1072.69 409.12 L1074.81 409.12 L1075.52 414.95 L1079.75 414.95 L1080.46 409.12 L1083.28 409.12 L1083.98 414.95 L1084.69 414.95 L1085.39 409.12 L1086.1 409.12 L1086.81 403.3 L1089.63 403.3 L1090.33 409.12 L1091.74 409.12 L1092.45 403.3 L1094.57 403.3 L1095.27 409.12 L1097.39 409.12 L1098.09 403.3 L1099.51 403.3 L1100.21 397.47 L1102.33 397.47 L1103.03 403.3 L1103.74 403.3 L1104.44 397.47 L1106.56 397.47 L1107.27 403.3 L1108.68 403.3 L1109.38 397.47 L1110.79 397.47 L1111.5 403.3 L1112.21 403.3 L1112.91 409.12 L1114.32 409.12 L1115.03 403.3 L1115.73 397.47 L1119.97 397.47 L1120.67 391.65 L1122.08 391.65 L1122.79 385.82 L1127.02 385.82 L1127.73 380 L1129.14 380 L1129.84 385.82 L1134.08 385.82 L1134.78 391.65 L1139.72 391.65 L1140.43 397.47 L1143.96 397.47 L1144.66 403.3 L1145.37 403.3 L1146.07 397.47 L1146.78 391.65 L1148.19 391.65 L1148.89 385.82 L1150.31 385.82 L1151.01 391.65 L1152.42 391.65 L1153.13 397.47 L1154.54 397.47 L1155.24 391.65 L1156.66 391.65 L1157.36 397.47 L1158.77 397.47 L1159.48 391.65 L1160.89 391.65 L1161.59 397.47 L1163.01 397.47 L1163.71 403.3 L1167.94 403.3 L1168.65 409.12 L1170.77 409.12 L1171.47 403.3 L1175.71 403.3 L1176.41 409.12 L1177.12 409.12 L1177.82 403.3 L1178.53 397.47 L1180.64 397.47 L1181.35 403.3 L1186.29 403.3 L1186.99 397.47 L1189.11 397.47 L1189.82 391.65 L1190.52 391.65 L1191.23 385.82 L1191.93 385.82 L1192.64 380 L1198.99 380 L1199.69 374.18 L1201.11 374.18 L1201.81 368.35 L1203.22 368.35 L1203.93 362.52 L1209.57 362.52 L1210.28 356.7 L1215.92 356.7 L1216.63 350.88 L1218.74 350.88 L1219.45 345.05 L1221.57 345.05 L1222.27 339.22 L1223.68 339.22 L1224.39 333.4 L1229.33 333.4 L1230.03 339.22 L1231.44 339.22 L1232.15 345.05 L1233.56 345.05 L1234.27 339.22 L1235.68 339.22 L1236.38 333.4 L1237.79 333.4 L1238.5 339.22 L1241.32 339.22 L1242.03 333.4 L1243.44 333.4 L1244.14 339.22 L1246.97 339.22 L1247.67 333.4 L1249.79 333.4 L1250.49 339.22 L1255.43 339.22 L1256.14 333.4 L1257.55 333.4 L1258.26 327.57 L1258.96 327.57 L1259.67 321.75 L1261.78 321.75 L1262.49 315.93 L1265.31 315.93 L1266.02 310.1 L1266.72 310.1 L1267.43 304.27 L1272.37 304.27 L1273.07 298.45 L1275.19 298.45 L1275.89 292.62 L1278.01 292.62 L1278.72 286.8 L1280.13 286.8 L1280.83 280.97 L1281.54 275.15 L1282.95 275.15 L1283.66 269.32 L1285.77 269.32 L1286.48 275.15 L1289.3 275.15 L1290.01 269.32 L1291.42 269.32 L1292.12 263.5 L1294.94 263.5 L1295.65 257.68 L1297.77 257.68 L1298.47 251.85 L1299.18 251.85 L1299.88 246.02 L1300.59 246.02 L1301.29 240.2 L1303.41 240.2 L1304.12 234.38 L1304.82 234.38 L1305.53 228.55 L1309.06 228.55 L1309.76 234.38 L1311.17 234.38 L1311.88 228.55 L1313.29 228.55 L1313.99 222.72 L1316.11 222.72 L1316.82 228.55 L1317.52 228.55 L1318.23 222.72 L1320.34 222.72 L1321.05 216.9 L1322.46 216.9 L1323.17 211.07 L1327.4 211.07 L1328.11 216.9 L1332.34 216.9 L1333.04 222.72 L1333.75 222.72 L1334.46 228.55 L1335.16 228.55 L1335.87 234.38 L1336.57 234.38 L1337.28 240.2 L1337.98 234.38 L1338.69 228.55 L1339.39 222.72 L1340.1 222.72 L1340.81 228.55 L1342.22 228.55 L1342.92 234.38 L1343.63 234.38 L1344.33 240.2 L1345.74 240.2 L1346.45 246.02 L1347.86 246.02 L1348.57 251.85 L1349.98 251.85 L1350.68 257.68 L1354.21 257.68 L1354.92 263.5 L1355.62 263.5 L1356.33 269.32 L1358.44 269.32 L1359.15 275.15 L1366.21 275.15 L1366.91 280.97 L1371.85 280.97 L1372.56 286.8 L1373.97 286.8 L1374.67 292.62 L1376.08 292.62 L1376.79 298.45 L1378.2 298.45 L1378.91 304.27 L1379.61 304.27 L1380.32 310.1 L1381.73 310.1 L1382.43 315.93 L1383.84 315.93 L1384.55 321.75 L1387.37 321.75 L1388.08 315.93 L1388.78 315.93 L1389.49 321.75 L1390.9 321.75 L1391.61 315.93 L1392.31 315.93 L1393.02 321.75 L1395.13 321.75 L1395.84 315.93 L1396.54 321.75 L1397.25 321.75 L1397.96 327.57 L1398.66 321.75 L1399.37 321.75 L1400.07 315.93 L1400.78 327.57 L1401.48 333.4 L1402.19 333.4 L1402.89 327.57 L1403.6 327.57 L1404.31 333.4 L1405.01 339.22 L1405.72 339.22 L1406.42 333.4 L1407.13 333.4 L1407.83 327.57 L1414.18 327.57 L1414.89 321.75 L1416.3 321.75 L1417.01 327.57 L1418.42 327.57 L1419.12 321.75 L1421.24 321.75 L1421.94 327.57 L1423.36 327.57 L1424.06 321.75 L1424.77 321.75 L1425.47 315.93 L1429 315.93 L1429.71 310.1 L1433.94 310.1 L1434.64 304.27 L1436.06 304.27 L1436.76 298.45 L1438.88 298.45 L1439.58 292.62 L1440.29 292.62 L1440.99 286.8 L1441.7 280.97 L1442.41 280.97 L1443.11 275.15 L1443.82 275.15 L1444.52 269.32 L1445.23 269.32 L1445.93 263.5 L1446.64 257.68 L1447.34 257.68 L1448.05 251.85 L1448.76 246.02 L1449.46 246.02 L1450.17 240.2 L1450.87 234.38 L1451.58 234.38 L1452.28 228.55 L1452.99 222.72 L1453.69 216.9 L1454.4 211.07 L1455.11 211.07 L1455.81 205.25 L1456.52 199.42 L1457.22 199.42 L1457.93 193.6 L1458.63 193.6 L1459.34 187.77 L1460.04 187.77 L1460.75 181.95 L1461.46 176.12 L1462.16 176.12 L1462.87 170.3 L1463.57 164.48 L1464.28 158.65 L1464.98 152.82 L1465.69 152.82 L1466.39 147 L1468.51 147 L1469.22 152.82 L1469.92 152.82 L1470.63 158.65 L1471.33 164.48 L1472.04 170.3 L1472.74 181.95 L1473.45 187.77 L1474.16 193.6 L1474.86 205.25 L1475.57 211.07 L1476.27 222.72 L1476.98 228.55 L1477.68 240.2 L1478.39 246.02 L1479.09 251.85 L1479.8 257.68 L1480.51 269.32 L1481.21 275.15 L1481.92 280.97 L1482.62 286.8 L1483.33 292.62 L1484.03 304.27 L1484.74 310.1 L1485.44 315.93 L1486.15 321.75 L1486.86 333.4 L1487.56 339.22 L1488.27 345.05 L1488.97 350.88 L1489.68 362.52 L1490.38 368.35 L1491.09 385.82 L1491.79 391.65 L1492.5 397.47 L1493.21 403.3 L1493.91 409.12 L1494.62 414.95 L1495.32 420.77 L1498.14 420.77 L1498.85 426.6 L1499.56 426.6 L1500.26 420.77 L1500.97 420.77 L1501.67 414.95 L1503.08 414.95 L1503.79 409.12 L1504.49 403.3 L1505.2 403.3 L1505.91 426.6 L1506.61 461.55 L1507.32 496.5 L1508.02 508.15 L1508.73 508.15 L1509.43 513.98 L1510.14 513.98 L1510.84 508.15 L1512.96 508.15 L1513.67 513.98 L1514.37 513.98 L1515.08 519.8 L1515.78 525.62 L1516.49 531.45 L1517.19 537.27 L1517.9 537.27 L1518.61 531.45 L1520.72 531.45 L1521.43 537.27 L1522.13 543.1 L1522.84 537.27 L1523.54 531.45 L1524.25 525.62 L1524.96 513.98 L1525.66 508.15 L1526.37 502.32 L1527.78 502.32 L1528.48 508.15 L1530.6 508.15 L1531.31 502.32 L1532.01 502.32 L1532.72 508.15 L1533.42 513.98 L1534.13 519.8 L1534.83 519.8 L1535.54 525.62 L1536.24 531.45 L1536.95 525.62 L1538.36 525.62 L1539.07 531.45 L1540.48 531.45 L1541.18 537.27 L1541.89 531.45 L1542.59 525.62 L1544.01 525.62 L1544.71 531.45 L1545.42 531.45 L1546.12 537.27 L1546.83 543.1 L1547.53 543.1 L1548.24 537.27 L1548.94 531.45 L1550.36 531.45" stroke="#ed7d31"/>
<path d="M159.6 529.79 L160.31 310.1 L168.07 310.1 L168.77 305.11 L169.48 300.11 L185.71 300.11 L186.41 305.11 L187.12 305.11 L187.82 310.1 L204.05 310.1 L204.76 315.09 L215.34 315.09 L216.04 310.1 L225.92 310.1 L226.63 305.11 L246.38 305.11 L247.09 310.1 L253.44 310.1 L254.14 305.11 L264.02 305.11 L264.73 310.1 L276.72 310.1 L277.43 305.11 L278.13 310.1 L295.07 310.1 L295.77 315.09 L304.24 315.09 L304.94 310.1 L305.65 310.1 L306.36 305.11 L319.76 305.11 L320.47 300.11 L321.17 295.12 L321.88 285.14 L322.58 290.13 L323.29 295.12 L323.99 300.11 L324.7 305.11 L326.82 305.11 L327.52 285.14 L328.23 250.19 L328.93 265.16 L329.64 285.14 L330.34 300.11 L331.05 300.11 L331.76 305.11 L332.46 305.11 L333.17 300.11 L339.52 300.11 L340.22 305.11 L350.1 305.11 L350.81 300.11 L351.51 295.12 L355.74 295.12 L356.45 290.13 L357.16 290.13 L357.86 285.14 L368.44 285.14 L369.15 290.13 L371.27 290.13 L371.97 285.14 L375.5 285.14 L376.21 280.14 L377.62 280.14 L378.32 275.15 L379.03 270.16 L385.38 270.16 L386.08 265.16 L391.73 265.16 L392.43 260.17 L395.96 260.17 L396.67 255.18 L397.37 255.18 L398.08 250.19 L399.49 250.19 L400.19 245.19 L403.02 245.19 L403.72 250.19 L404.43 295.12 L405.13 290.13 L406.54 290.13 L407.25 285.14 L407.96 285.14 L408.66 290.13 L410.78 290.13 L411.48 295.12 L412.19 295.12 L412.89 300.11 L417.13 300.11 L417.83 305.11 L419.95 305.11 L420.66 310.1 L431.24 310.1 L431.94 305.11 L432.65 295.12 L433.36 290.13 L434.06 300.11 L434.77 310.1 L436.18 310.1 L436.88 315.09 L446.76 315.09 L447.47 320.09 L448.17 320.09 L448.88 325.08 L450.29 325.08 L450.99 320.09 L475.69 320.09 L476.39 325.08 L494.03 325.08 L494.74 330.07 L496.15 330.07 L496.86 325.08 L506.03 325.08 L506.73 330.07 L508.85 330.07 L509.56 335.06 L510.97 335.06 L511.67 340.06 L513.79 340.06 L514.49 345.05 L518.02 345.05 L518.73 350.04 L520.14 350.04 L520.84 365.02 L521.55 399.97 L522.26 414.95 L525.08 414.95 L525.78 419.94 L526.49 434.92 L527.19 444.91 L532.13 444.91 L532.84 454.89 L533.54 464.88 L534.25 464.88 L534.96 459.89 L537.07 459.89 L537.78 464.88 L549.77 464.88 L550.48 469.87 L551.18 479.86 L551.89 484.85 L552.59 489.84 L553.3 494.84 L554.01 499.83 L554.71 504.82 L563.18 504.82 L563.88 509.81 L564.59 514.81 L565.29 514.81 L566 519.8 L567.41 519.8 L568.12 524.79 L583.64 524.79 L584.34 529.79 L594.22 529.79 L594.93 519.8 L595.63 295.12 L596.34 185.28 L597.04 165.31 L597.75 160.31 L598.46 155.32 L599.87 155.32 L600.57 185.28 L601.28 180.29 L601.98 175.29 L602.69 180.29 L603.39 180.29 L604.1 185.28 L607.63 185.28 L608.33 190.27 L613.27 190.27 L613.98 185.28 L614.68 185.28 L615.39 180.29 L616.09 180.29 L616.8 175.29 L618.92 175.29 L619.62 185.28 L620.33 250.19 L621.03 320.09 L621.74 375.01 L622.44 439.91 L623.15 439.91 L623.86 444.91 L625.27 444.91 L625.97 449.9 L626.68 449.9 L627.38 444.91 L628.09 439.91 L628.79 434.92 L629.5 439.91 L630.21 439.91 L630.91 444.91 L631.62 444.91 L632.32 449.9 L658.43 449.9 L659.13 454.89 L667.6 454.89 L668.31 434.92 L669.01 380 L669.72 310.1 L670.42 305.11 L678.89 305.11 L679.59 295.12 L680.3 290.13 L685.24 290.13 L685.94 280.14 L686.65 275.15 L687.36 280.14 L693.71 280.14 L694.41 275.15 L695.12 270.16 L695.82 265.16 L696.53 270.16 L702.17 270.16 L702.88 260.17 L703.58 250.19 L704.29 245.19 L704.99 240.2 L706.41 240.2 L707.11 235.21 L713.46 235.21 L714.17 230.21 L714.87 215.24 L715.58 210.24 L719.11 210.24 L719.81 215.24 L721.93 215.24 L722.63 210.24 L724.04 210.24 L724.75 205.25 L726.16 205.25 L726.87 210.24 L729.69 210.24 L730.39 215.24 L731.1 215.24 L731.81 220.23 L732.51 255.18 L733.22 330.07 L733.92 335.06 L734.63 340.06 L735.33 340.06 L736.04 345.05 L736.74 380 L737.45 439.91 L738.16 444.91 L740.98 444.91 L741.68 439.91 L742.39 439.91 L743.09 444.91 L746.62 444.91 L747.33 449.9 L749.44 449.9 L750.15 384.99 L750.86 320.09 L757.21 320.09 L757.91 325.08 L759.32 325.08 L760.03 330.07 L769.2 330.07 L769.91 335.06 L770.61 340.06 L776.26 340.06 L776.96 345.05 L783.31 345.05 L784.02 340.06 L797.42 340.06 L798.13 335.06 L808.71 335.06 L809.42 340.06 L810.12 340.06 L810.83 345.05 L812.24 345.05 L812.94 350.04 L815.77 350.04 L816.47 355.04 L838.34 355.04 L839.05 360.03 L840.46 360.03 L841.17 370.01 L841.87 384.99 L842.58 439.91 L843.28 454.89 L846.81 454.89 L847.52 459.89 L848.93 459.89 L849.63 464.88 L854.57 464.88 L855.28 469.87 L859.51 469.87 L860.22 474.86 L862.33 474.86 L863.04 479.86 L870.8 479.86 L871.51 484.85 L873.62 484.85 L874.33 489.84 L876.44 489.84 L877.15 494.84 L882.79 494.84 L883.5 499.83 L884.91 499.83 L885.62 504.82 L887.73 504.82 L888.44 509.81 L889.14 509.81 L889.85 514.81 L893.38 514.81 L894.08 494.84 L894.79 419.94 L895.49 250.19 L896.2 135.35 L896.91 150.33 L897.61 170.3 L901.14 170.3 L901.84 175.29 L903.26 175.29 L903.96 180.29 L904.67 185.28 L905.37 190.27 L908.9 190.27 L909.61 195.26 L910.31 195.26 L911.02 200.26 L911.72 205.25 L912.43 210.24 L913.13 100.4 L913.84 150.33 L914.54 215.24 L915.25 280.14 L915.96 300.11 L916.66 315.09 L917.37 370.01 L918.07 429.93 L918.78 444.91 L919.48 449.9 L920.89 449.9 L921.6 444.91 L923.72 444.91 L924.42 449.9 L925.13 444.91 L932.89 444.91 L933.59 439.91 L934.3 429.93 L935.01 434.92 L935.71 439.91 L936.42 444.91 L940.65 444.91 L941.36 449.9 L945.59 449.9 L946.29 454.89 L951.23 454.89 L951.94 459.89 L958.29 459.89 L958.99 464.88 L959.7 464.88 L960.41 434.92 L961.11 375.01 L961.82 340.06 L966.05 340.06 L966.76 335.06 L973.81 335.06 L974.52 330.07 L975.22 335.06 L987.92 335.06 L988.63 340.06 L997.8 340.06 L998.51 335.06 L999.21 335.06 L999.92 340.06 L1009.09 340.06 L1009.79 345.05 L1028.84 345.05 L1029.55 350.04 L1032.37 350.04 L1033.08 345.05 L1042.25 345.05 L1042.96 340.06 L1043.66 345.05 L1050.01 345.05 L1050.72 350.04 L1055.66 350.04 L1056.36 355.04 L1057.07 360.03 L1065.53 360.03 L1066.24 355.04 L1071.18 355.04 L1071.88 350.04 L1081.06 350.04 L1081.76 355.04 L1082.47 360.03 L1089.52 360.03 L1090.23 365.02 L1090.93 365.02 L1091.64 360.03 L1100.11 360.03 L1100.81 365.02 L1121.98 365.02 L1122.68 360.03 L1133.27 360.03 L1133.97 365.02 L1142.44 365.02 L1143.14 370.01 L1144.56 370.01 L1145.26 365.02 L1165.72 365.02 L1166.43 360.03 L1168.54 360.03 L1169.25 365.02 L1174.19 365.02 L1174.89 355.04 L1190.42 355.04 L1191.12 345.05 L1191.83 335.06 L1192.53 330.07 L1193.24 330.07 L1193.94 335.06 L1201.71 335.06 L1202.41 330.07 L1208.76 330.07 L1209.47 325.08 L1214.41 325.08 L1215.11 320.09 L1215.82 320.09 L1216.52 315.09 L1226.4 315.09 L1227.11 320.09 L1228.52 320.09 L1229.22 325.08 L1232.04 325.08 L1232.75 320.09 L1233.46 320.09 L1234.16 325.08 L1244.04 325.08 L1244.74 330.07 L1248.98 330.07 L1249.68 335.06 L1250.39 335.06 L1251.09 330.07 L1252.51 330.07 L1253.21 325.08 L1254.62 325.08 L1255.33 330.07 L1259.56 330.07 L1260.27 320.09 L1260.97 315.09 L1264.5 315.09 L1265.21 305.11 L1265.91 295.12 L1272.97 295.12 L1273.67 290.13 L1274.38 290.13 L1275.08 285.14 L1282.14 285.14 L1282.84 280.14 L1287.78 280.14 L1288.49 285.14 L1289.9 285.14 L1290.61 290.13 L1292.02 290.13 L1292.72 285.14 L1299.07 285.14 L1299.78 290.13 L1300.48 295.12 L1301.19 300.11 L1301.89 305.11 L1308.95 305.11 L1309.66 300.11 L1318.83 300.11 L1319.53 305.11 L1326.59 305.11 L1327.29 310.1 L1328 310.1 L1328.71 315.09 L1335.06 315.09 L1335.76 320.09 L1336.47 320.09 L1337.17 315.09 L1343.52 315.09 L1344.23 320.09 L1350.58 320.09 L1351.28 325.08 L1351.99 330.07 L1368.22 330.07 L1368.92 335.06 L1370.33 335.06 L1371.04 340.06 L1371.74 340.06 L1372.45 345.05 L1373.86 345.05 L1374.57 340.06 L1376.68 340.06 L1377.39 345.05 L1379.51 345.05 L1380.21 340.06 L1391.5 340.06 L1392.21 335.06 L1398.56 335.06 L1399.26 340.06 L1399.97 340.06 L1400.67 335.06 L1407.02 335.06 L1407.73 330.07 L1409.14 330.07 L1409.84 335.06 L1424.66 335.06 L1425.37 340.06 L1428.89 340.06 L1429.6 345.05 L1430.31 350.04 L1433.13 350.04 L1433.83 355.04 L1438.77 355.04 L1439.48 350.04 L1440.18 340.06 L1440.89 330.07 L1441.59 320.09 L1442.3 310.1 L1443.01 305.11 L1443.71 295.12 L1444.42 285.14 L1445.12 280.14 L1446.53 280.14 L1447.24 275.15 L1448.65 275.15 L1449.36 270.16 L1450.77 270.16 L1451.47 260.17 L1452.18 255.18 L1452.88 245.19 L1453.59 240.2 L1454.29 235.21 L1455 230.21 L1455.71 225.22 L1456.41 220.23 L1457.12 220.23 L1457.82 210.24 L1458.53 195.26 L1459.23 185.28 L1459.94 180.29 L1460.64 175.29 L1461.35 180.29 L1462.06 185.28 L1462.76 220.23 L1463.47 260.17 L1464.17 315.09 L1464.88 340.06 L1465.58 350.04 L1466.29 365.02 L1466.99 365.02 L1467.7 370.01 L1468.41 464.88 L1471.23 464.88 L1471.93 694.55 L1472.64 729.5 L1552.37 729.5" stroke="#a5a5a5"/>
<path d="M217 671H243" stroke="#4472c4"/><path d="M807 671H833" stroke="#ed7d31"/><path d="M1209 671H1235" stroke="#a5a5a5"/>
</g>
<text class="t" x="252.1" y="678" textLength="536.3" lengthAdjust="spacingAndGlyphs">Garmin Instinct optischer HR-Sensor (Ø145)</text>
<text class="t" x="842.2" y="678" textLength="349" lengthAdjust="spacingAndGlyphs">Garmin HR-Brustgurt (Ø147)</text>
<text class="t" x="1243" y="678" textLength="188.2" lengthAdjust="spacingAndGlyphs">Schrittfrequenz</text>
<text class="t" x="137.7" y="38" text-anchor="end">200</text>
<text class="t" x="137.7" y="154" text-anchor="end">180</text>
<text class="t" x="137.7" y="270" text-anchor="end">160</text>
<text class="t" x="137.7" y="387" text-anchor="end">140</text>
<text class="t" x="137.7" y="504" text-anchor="end">120</text>
<text class="t" x="137.7" y="620" text-anchor="end">100</text>
<text class="t" x="137.7" y="736" text-anchor="end">80</text>
<text class="t" x="1575.6" y="38">140</text>
<text class="t" x="1575.6" y="137">120</text>
<text class="t" x="1575.6" y="237">100</text>
<text class="t" x="1575.6" y="337">80</text>
<text class="t" x="1575.6" y="437">60</text>
<text class="t" x="1575.6" y="537">40</text>
<text class="t" x="1575.6" y="637">20</text>
<text class="t" x="1575.6" y="736.2">0</text>
<text class="t" x="158.5" y="765" text-anchor="middle">0</text>
<text class="t" x="370.2" y="765" text-anchor="middle">5</text>
<text class="t" x="581.8" y="765" text-anchor="middle">10</text>
<text class="t" x="793.5" y="765" text-anchor="middle">15</text>
<text class="t" x="1005.2" y="765" text-anchor="middle">20</text>
<text class="t" x="1216.8" y="765" text-anchor="middle">25</text>
<text class="t" x="1428.5" y="765" text-anchor="middle">30</text>
<text class="a" x="943.2" y="806.5" text-anchor="middle" textLength="203.2" lengthAdjust="spacingAndGlyphs">Zeit in Minuten</text>
<text class="b" transform="translate(32.4 381.3) rotate(-90)" text-anchor="middle" textLength="536.4" lengthAdjust="spacingAndGlyphs">Herzfrequenz in Schläge pro Minute</text>
<text class="c" transform="translate(1649 380) rotate(-90)" text-anchor="middle" textLength="210.7" lengthAdjust="spacingAndGlyphs">Schrittfrequenz</text>
</svg>
</body></html>
